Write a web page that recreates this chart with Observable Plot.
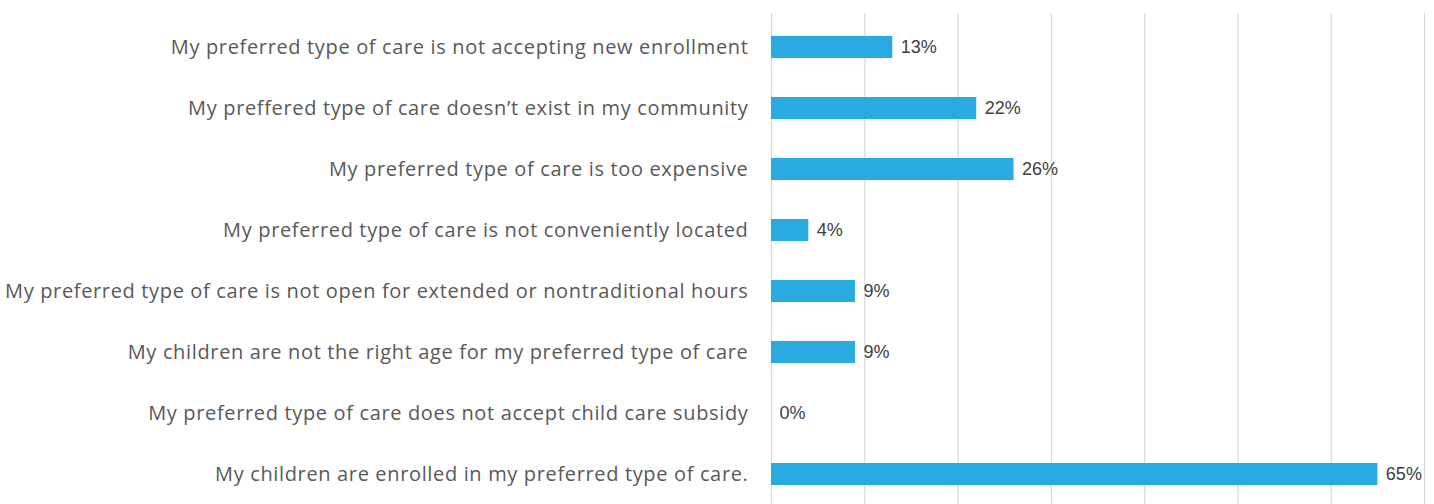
<!DOCTYPE html>
<html>
<head>
<meta charset="utf-8">
<script src="https://cdn.jsdelivr.net/npm/d3@7"></script>
<script src="https://cdn.jsdelivr.net/npm/@observablehq/plot@0.6"></script>
<style>
  html, body { margin: 0; padding: 0; background: #fff; }
</style>
</head>
<body>
<div id="chart"></div>
<script>
const categories = [
  "My preferred type of care is not accepting new enrollment",
  "My preffered type of care doesn’t exist in my community",
  "My preferred type of care is too expensive",
  "My preferred type of care is not conveniently located",
  "My preferred type of care is not open for extended or nontraditional hours",
  "My children are not the right age for my preferred type of care",
  "My preferred type of care does not accept child care subsidy",
  "My children are enrolled in my preferred type of care."
];
const values = [13, 22, 26, 4, 9, 9, 0, 65];
const gridTicks = [0, 10, 20, 30, 40, 50, 60, 70];

const data = categories.map((c, i) => ({category: c, value: values[i]}));

const chart = Plot.plot({
  width: 1434,
  height: 504,
  marginLeft: 771,
  marginRight: 10,
  marginTop: 13,
  marginBottom: 0,
  style: {fontFamily: "'Open Sans', sans-serif", background: "#fff"},
  x: {domain: [0, 70], axis: null},
  y: {domain: categories, range: [13, 507], paddingInner: 0.64, paddingOuter: 0.32, align: 0.5, axis: null},
  marks: [
    Plot.ruleX(gridTicks, {stroke: "#d9d9d9", strokeWidth: 1.2}),
    Plot.barX(data, {x: "value", y: "category", fill: "#29abe2"}),
    Plot.text(data, {
      x: "value", y: "category",
      text: d => d.value + "%",
      dx: 8, textAnchor: "start",
      fill: "#404040", fontSize: 18,
      fontFamily: "'Liberation Sans', Arial, sans-serif"
    }),
    Plot.axisY({
      tickSize: 0, tickPadding: 23, fontSize: 20, color: "#595959",
      fontFamily: "'Open Sans', sans-serif", label: null,
      letterSpacing: 0.65
    })
  ]
});
chart.querySelectorAll("text").forEach(t => {
  if (t.closest("[aria-label='y-axis tick label']")) t.style.letterSpacing = "0.65px";
});
document.getElementById("chart").appendChild(chart);
</script>
</body>
</html>
